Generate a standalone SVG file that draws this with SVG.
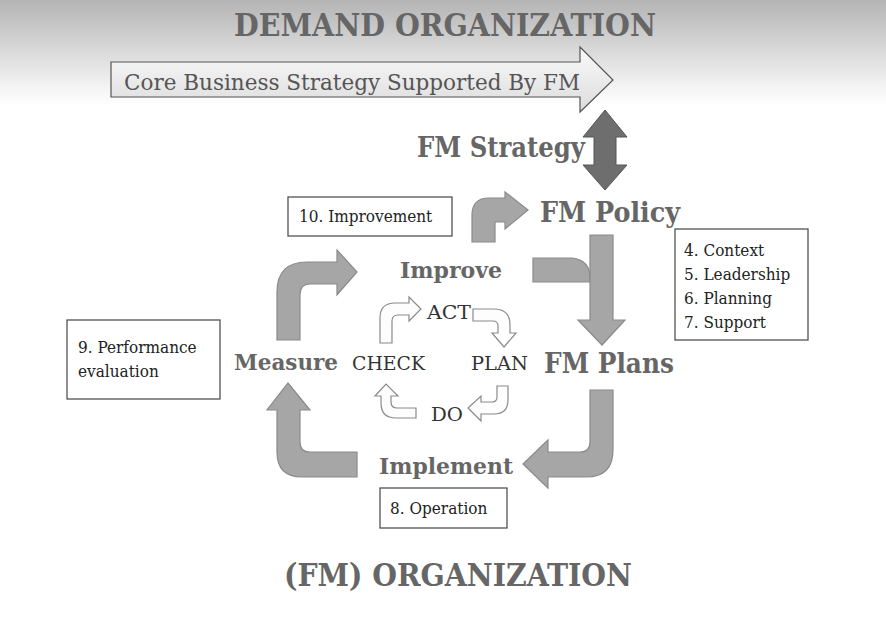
<svg xmlns="http://www.w3.org/2000/svg" width="886" height="620" viewBox="0 0 886 620">
<defs>
<linearGradient id="bg" x1="0" y1="0" x2="0" y2="1"><stop offset="0" stop-color="#b4b4b4"/><stop offset="0.8" stop-color="#f2f2f2"/><stop offset="1" stop-color="#fff"/></linearGradient>
<linearGradient id="ar" x1="0" y1="0" x2="0" y2="1"><stop offset="0" stop-color="#fafafa"/><stop offset="1" stop-color="#dcdcdc"/></linearGradient>
</defs>
<style>
.big{fill:#a6a6a6;stroke:#8a8a8a;stroke-width:1.2}
.sm{fill:#fdfdfd;stroke:#8a8a8a;stroke-width:1.2}
.box{fill:#fff;stroke:#444;stroke-width:1.2}
.h{font-family:"DejaVu Serif Condensed","Liberation Serif",serif;font-weight:bold;fill:#666}
.s{font-family:"DejaVu Serif Condensed","Liberation Serif",serif;fill:#222;font-size:17px}
.p{font-family:"DejaVu Serif Condensed","Liberation Serif",serif;fill:#333;font-size:19px}
</style>
<rect width="886" height="620" fill="#fff"/>
<rect width="886" height="106" fill="url(#bg)"/>
<g id="demand"><text class="h" x="445" y="36" font-size="32" text-anchor="middle" textLength="422" lengthAdjust="spacingAndGlyphs">DEMAND ORGANIZATION</text></g>
<g id="core"><path d="M111,62 L580,62 L580,47 L613,80 L580,112 L580,97 L111,97 Z" fill="url(#ar)" stroke="#555" stroke-width="1.2"/>
<text x="124" y="90" font-family="DejaVu Serif Condensed,Liberation Serif,serif" font-size="22" fill="#555" textLength="456" lengthAdjust="spacingAndGlyphs">Core Business Strategy Supported By FM</text></g>
<g id="strategy"><path d="M605,110 L627,137 L616,137 L616,165 L627,165 L605,190 L583,165 L594,165 L594,137 L583,137 Z" fill="#6e6e6e" stroke="#555"/>
<text class="h" x="585" y="157" font-size="27" text-anchor="end" textLength="168" lengthAdjust="spacingAndGlyphs">FM Strategy</text></g>
<g id="connectors">
<path class="big" d="M472,242 L472,215 Q472,198 489,198 L505,198 L505,192 L528,210 L505,229 L505,222 L495,222 L495,242 Z"/>
<path class="big" d="M533,258 L572,258 Q590,260 590,278 L590,282 L533,282 Z"/>
<path class="big" d="M590,235 L613,235 L613,320 L625,320 L602,345 L578,320 L590,320 Z"/>
<path class="big" d="M590,390 L613,390 L613,450 Q613,477 586,477 L548,477 L548,488 L523,464 L548,440 L548,452 L580,452 Q590,452 590,442 Z"/>
<path class="big" d="M357,452 L357,477 L302,477 Q277,477 277,452 L277,410 L267,410 L288,383 L310,410 L300,410 L300,442 Q300,452 310,452 Z"/>
<path class="big" d="M277,340 L277,292 Q277,262 307,262 L337,262 L337,250 L357,272 L337,295 L337,284 L310,284 Q300,284 300,295 L300,340 Z"/>
<path class="sm" d="M380,343 L380,318 Q380,303 395,303 L409,303 L409,297 L421,309 L409,321 L409,315 L398,315 Q392,315 392,321 L392,343 Z"/>
<path class="sm" d="M473,309 L494,309 Q510,309 510,325 L510,333 L516,333 L504,347 L492,333 L498,333 L498,326 Q498,321 493,321 L473,321 Z"/>
<path class="sm" d="M497,386 L508,386 L508,400 Q508,414 494,414 L481,414 L481,421 L468,408 L481,396 L481,402 L492,402 Q497,402 497,397 Z"/>
<path class="sm" d="M416,408 L416,418 L396,418 Q381,418 381,403 L381,396 L375,396 L386,384 L398,396 L391,396 L391,402 Q391,408 397,408 Z"/>
</g>
<g id="policy"><text class="h" x="540" y="222" font-size="28" textLength="140" lengthAdjust="spacingAndGlyphs">FM Policy</text></g>
<g id="plans"><text class="h" x="544" y="373" font-size="28" textLength="130" lengthAdjust="spacingAndGlyphs">FM Plans</text></g>
<g id="improve"><text class="h" x="400" y="278" font-size="22" textLength="102" lengthAdjust="spacingAndGlyphs">Improve</text></g>
<g id="measure"><text class="h" x="234" y="370" font-size="22" textLength="104" lengthAdjust="spacingAndGlyphs">Measure</text></g>
<g id="implement"><text class="h" x="379" y="474" font-size="22" textLength="134" lengthAdjust="spacingAndGlyphs">Implement</text></g>
<g id="act"><text class="p" x="427" y="319" textLength="44" lengthAdjust="spacingAndGlyphs">ACT</text></g>
<g id="check"><text class="p" x="352" y="370" textLength="73" lengthAdjust="spacingAndGlyphs">CHECK</text></g>
<g id="plan"><text class="p" x="471" y="370" textLength="57" lengthAdjust="spacingAndGlyphs">PLAN</text></g>
<g id="do"><text class="p" x="431" y="421" textLength="32" lengthAdjust="spacingAndGlyphs">DO</text></g>
<g id="b10"><rect class="box" x="288" y="197" width="164" height="39"/><text class="s" x="299" y="222">10. Improvement</text></g>
<g id="b47"><rect class="box" x="675" y="229" width="133" height="111"/>
<text class="s" x="684" y="256">4. Context</text><text class="s" x="684" y="280">5. Leadership</text><text class="s" x="684" y="304">6. Planning</text><text class="s" x="684" y="328">7. Support</text></g>
<g id="b9"><rect class="box" x="67" y="320" width="153" height="79"/><text class="s" x="78" y="353">9. Performance</text><text class="s" x="78" y="377">evaluation</text></g>
<g id="b8"><rect class="box" x="380" y="488" width="127" height="40"/><text class="s" x="390" y="514">8. Operation</text></g>
<g id="fmorg"><text class="h" x="458" y="586" font-size="32" text-anchor="middle" textLength="348" lengthAdjust="spacingAndGlyphs">(FM) ORGANIZATION</text></g>
</svg>
